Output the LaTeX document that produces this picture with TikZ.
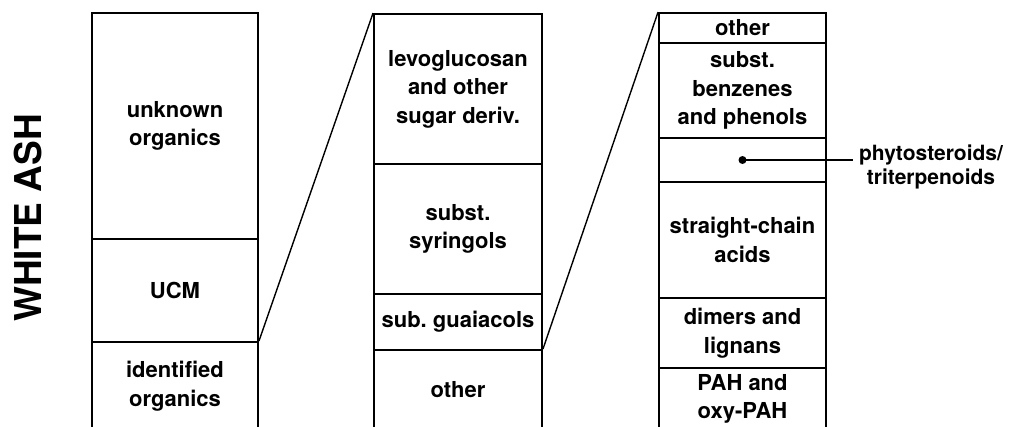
\documentclass[tikz,border=0pt]{standalone}
\usepackage{fontspec}
\setmainfont{TeX Gyre Heros}
\frenchspacing
\begin{document}
\begin{tikzpicture}[x=1pt,y=-1pt,
  seg/.style={draw, line width=1.9pt, rectangle, inner sep=0pt, align=center,
    font=\bfseries\fontsize{22}{28.5}\selectfont},
  c1/.style={seg, minimum width=166pt},
  c2/.style={seg, minimum width=168pt},
  c3/.style={seg, minimum width=167pt},
  zoomline/.style={line width=1.4pt},
  lbl/.style={align=center, inner sep=0pt, font=\bfseries\fontsize{21}{24}\selectfont}]
\useasboundingbox (0,0) rectangle (1019,426);
\begin{scope}
\clip (0,0) rectangle (1019,426);
% column 1
\node[c1, minimum height=226pt] (a1) at (175,126) {unknown\\organics};
\node[c1, minimum height=103pt] (a2) at (175,290.5) {UCM};
\node[c1, minimum height=88pt] (a3) at (175,386) {identified\\organics};
% column 2
\node[c2, minimum height=150pt] (b1) at (458,89) {levoglucosan\\and other\\sugar deriv.};
\node[c2, minimum height=130pt] (b2) at (458,229) {subst.\\syringols};
\node[c2, minimum height=56pt] (b3) at (458,322) {sub. guaiacols};
\node[c2, minimum height=80pt] (b4) at (458,390) {other};
% column 3
\node[c3, minimum height=30pt] (d1) at (742.5,28) {other};
\node[c3, minimum height=95pt] (d2) at (742.5,90.5) {subst.\\benzenes\\and phenols};
\node[c3, minimum height=44pt] (d3) at (742.5,160) {};
\node[c3, minimum height=116pt] (d4) at (742.5,240) {straight-chain\\acids};
\node[c3, minimum height=70pt] (d5) at (742.5,333) {dimers and\\lignans};
\node[c3, minimum height=62pt] (d6) at (742.5,399) {PAH and\\oxy-PAH};
\end{scope}
% zoom lines
\draw[zoomline] (a3.north east) -- (b1.north west);
\draw[zoomline] (b4.north east) -- (d1.north west);
% dot and label
\node[circle, fill, inner sep=0pt, minimum size=8pt] (dot) at (d3.center) {};
\node[lbl] (phy) at (931,167) {phytosteroids/\\triterpenoids};
\coordinate (lend) at (853,160);
\draw[line width=1.4pt] (dot.center) -- (lend);
% side title
\node[rotate=90, font=\bfseries\fontsize{37}{40}\selectfont, inner sep=0pt] (title) at (28,218) {WHITE ASH};
\end{tikzpicture}
\end{document}
